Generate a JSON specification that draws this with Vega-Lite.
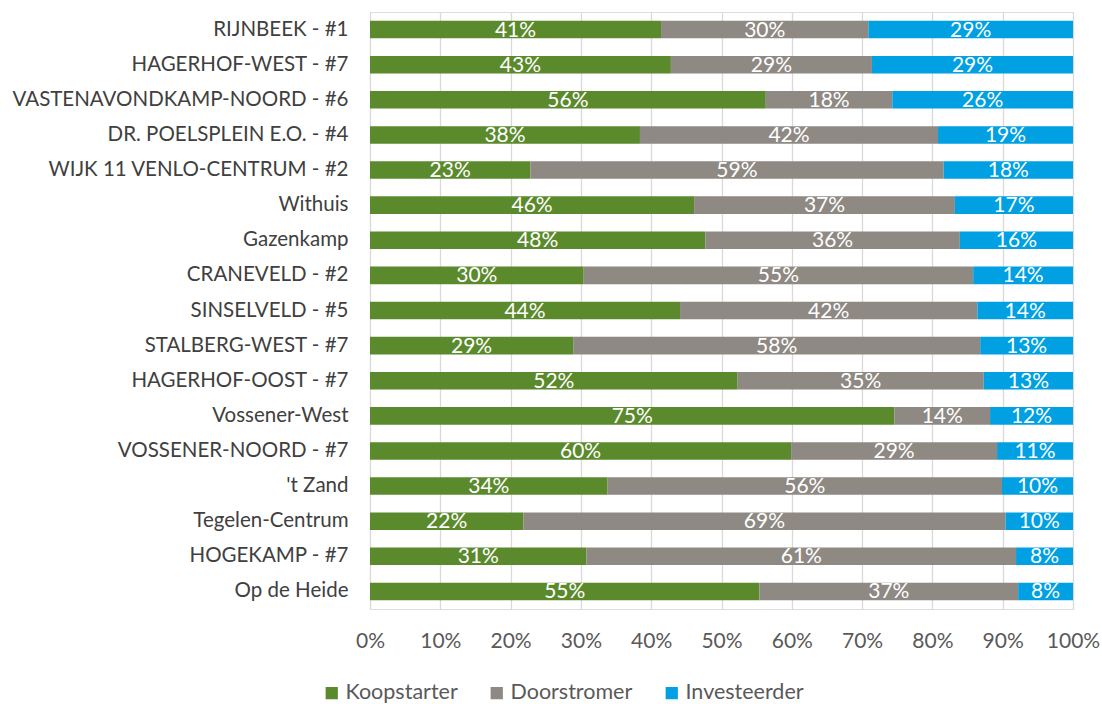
{
  "$schema": "https://vega.github.io/schema/vega-lite/v6.json",
  "width": 703,
  "height": 597,
  "autosize": "none",
  "padding": {"left": 370, "top": 12, "right": 29, "bottom": 95},
  "background": "white",
  "data": {
    "values": [
      {"wijk": "RIJNBEEK - #1", "type": "Koopstarter", "o": 1, "v": 0.414},
      {"wijk": "RIJNBEEK - #1", "type": "Doorstromer", "o": 2, "v": 0.295},
      {"wijk": "RIJNBEEK - #1", "type": "Investeerder", "o": 3, "v": 0.291},
      {"wijk": "HAGERHOF-WEST - #7", "type": "Koopstarter", "o": 1, "v": 0.428},
      {"wijk": "HAGERHOF-WEST - #7", "type": "Doorstromer", "o": 2, "v": 0.286},
      {"wijk": "HAGERHOF-WEST - #7", "type": "Investeerder", "o": 3, "v": 0.286},
      {"wijk": "VASTENAVONDKAMP-NOORD - #6", "type": "Koopstarter", "o": 1, "v": 0.563},
      {"wijk": "VASTENAVONDKAMP-NOORD - #6", "type": "Doorstromer", "o": 2, "v": 0.180},
      {"wijk": "VASTENAVONDKAMP-NOORD - #6", "type": "Investeerder", "o": 3, "v": 0.257},
      {"wijk": "DR. POELSPLEIN E.O. - #4", "type": "Koopstarter", "o": 1, "v": 0.384},
      {"wijk": "DR. POELSPLEIN E.O. - #4", "type": "Doorstromer", "o": 2, "v": 0.424},
      {"wijk": "DR. POELSPLEIN E.O. - #4", "type": "Investeerder", "o": 3, "v": 0.192},
      {"wijk": "WIJK 11 VENLO-CENTRUM - #2", "type": "Koopstarter", "o": 1, "v": 0.228},
      {"wijk": "WIJK 11 VENLO-CENTRUM - #2", "type": "Doorstromer", "o": 2, "v": 0.588},
      {"wijk": "WIJK 11 VENLO-CENTRUM - #2", "type": "Investeerder", "o": 3, "v": 0.184},
      {"wijk": "Withuis", "type": "Koopstarter", "o": 1, "v": 0.461},
      {"wijk": "Withuis", "type": "Doorstromer", "o": 2, "v": 0.371},
      {"wijk": "Withuis", "type": "Investeerder", "o": 3, "v": 0.168},
      {"wijk": "Gazenkamp", "type": "Koopstarter", "o": 1, "v": 0.477},
      {"wijk": "Gazenkamp", "type": "Doorstromer", "o": 2, "v": 0.362},
      {"wijk": "Gazenkamp", "type": "Investeerder", "o": 3, "v": 0.161},
      {"wijk": "CRANEVELD - #2", "type": "Koopstarter", "o": 1, "v": 0.304},
      {"wijk": "CRANEVELD - #2", "type": "Doorstromer", "o": 2, "v": 0.554},
      {"wijk": "CRANEVELD - #2", "type": "Investeerder", "o": 3, "v": 0.142},
      {"wijk": "SINSELVELD - #5", "type": "Koopstarter", "o": 1, "v": 0.441},
      {"wijk": "SINSELVELD - #5", "type": "Doorstromer", "o": 2, "v": 0.423},
      {"wijk": "SINSELVELD - #5", "type": "Investeerder", "o": 3, "v": 0.136},
      {"wijk": "STALBERG-WEST - #7", "type": "Koopstarter", "o": 1, "v": 0.289},
      {"wijk": "STALBERG-WEST - #7", "type": "Doorstromer", "o": 2, "v": 0.579},
      {"wijk": "STALBERG-WEST - #7", "type": "Investeerder", "o": 3, "v": 0.132},
      {"wijk": "HAGERHOF-OOST - #7", "type": "Koopstarter", "o": 1, "v": 0.523},
      {"wijk": "HAGERHOF-OOST - #7", "type": "Doorstromer", "o": 2, "v": 0.350},
      {"wijk": "HAGERHOF-OOST - #7", "type": "Investeerder", "o": 3, "v": 0.127},
      {"wijk": "Vossener-West", "type": "Koopstarter", "o": 1, "v": 0.746},
      {"wijk": "Vossener-West", "type": "Doorstromer", "o": 2, "v": 0.136},
      {"wijk": "Vossener-West", "type": "Investeerder", "o": 3, "v": 0.118},
      {"wijk": "VOSSENER-NOORD - #7", "type": "Koopstarter", "o": 1, "v": 0.599},
      {"wijk": "VOSSENER-NOORD - #7", "type": "Doorstromer", "o": 2, "v": 0.293},
      {"wijk": "VOSSENER-NOORD - #7", "type": "Investeerder", "o": 3, "v": 0.108},
      {"wijk": "'t Zand", "type": "Koopstarter", "o": 1, "v": 0.338},
      {"wijk": "'t Zand", "type": "Doorstromer", "o": 2, "v": 0.561},
      {"wijk": "'t Zand", "type": "Investeerder", "o": 3, "v": 0.101},
      {"wijk": "Tegelen-Centrum", "type": "Koopstarter", "o": 1, "v": 0.218},
      {"wijk": "Tegelen-Centrum", "type": "Doorstromer", "o": 2, "v": 0.686},
      {"wijk": "Tegelen-Centrum", "type": "Investeerder", "o": 3, "v": 0.096},
      {"wijk": "HOGEKAMP - #7", "type": "Koopstarter", "o": 1, "v": 0.308},
      {"wijk": "HOGEKAMP - #7", "type": "Doorstromer", "o": 2, "v": 0.611},
      {"wijk": "HOGEKAMP - #7", "type": "Investeerder", "o": 3, "v": 0.081},
      {"wijk": "Op de Heide", "type": "Koopstarter", "o": 1, "v": 0.554},
      {"wijk": "Op de Heide", "type": "Doorstromer", "o": 2, "v": 0.368},
      {"wijk": "Op de Heide", "type": "Investeerder", "o": 3, "v": 0.078}
    ]
  },
  "encoding": {
    "y": {
      "field": "wijk",
      "type": "nominal",
      "sort": null,
      "scale": {"paddingInner": 0.5, "paddingOuter": 0.25},
      "axis": {
        "title": null,
        "ticks": false,
        "domain": false,
        "grid": false,
        "labelPadding": 22,
        "labelFont": "Lato",
        "labelFontSize": 20.5,
        "labelColor": "#404040",
        "labelLimit": 400
      }
    },
    "x": {
      "field": "v",
      "type": "quantitative",
      "stack": "zero",
      "scale": {"domain": [0, 1], "nice": false, "zero": true},
      "axis": {
        "title": null,
        "values": [0, 0.1, 0.2, 0.3, 0.4, 0.5, 0.6, 0.7, 0.8, 0.9, 1],
        "format": ".0%",
        "ticks": false,
        "domain": false,
        "grid": true,
        "gridColor": "#D9D9D9",
        "gridWidth": 1.3,
        "labelPadding": 21,
        "labelFont": "Lato",
        "labelFontSize": 21,
        "labelColor": "#595959",
        "labelFlush": false
      }
    },
    "order": {"field": "o", "type": "quantitative"}
  },
  "layer": [
    {
      "mark": {"type": "bar"},
      "encoding": {
        "color": {
          "field": "type",
          "type": "nominal",
          "sort": ["Koopstarter", "Doorstromer", "Investeerder"],
          "scale": {
            "domain": ["Koopstarter", "Doorstromer", "Investeerder"],
            "range": ["#5B8A2D", "#8F8984", "#00A0E3"]
          },
          "legend": {
            "title": null,
            "orient": "none",
            "direction": "horizontal",
            "legendX": -49,
            "legendY": 670,
            "symbolType": "square",
            "symbolSize": 150,
            "symbolStrokeWidth": 0,
            "symbolOpacity": 1,
            "labelFont": "Lato",
            "labelFontSize": 21.5,
            "labelColor": "#595959",
            "labelOffset": 3,
            "columnPadding": 28
          }
        }
      }
    },
    {
      "mark": {
        "type": "text",
        "color": "white",
        "font": "Lato",
        "fontSize": 21,
        "baseline": "middle",
        "align": "center",
        "dy": 1
      },
      "encoding": {
        "x": {"field": "v", "type": "quantitative", "stack": "zero", "bandPosition": 0.5},
        "detail": {"field": "type", "type": "nominal"},
        "text": {"field": "v", "type": "quantitative", "format": ".0%"}
      }
    }
  ]
}
